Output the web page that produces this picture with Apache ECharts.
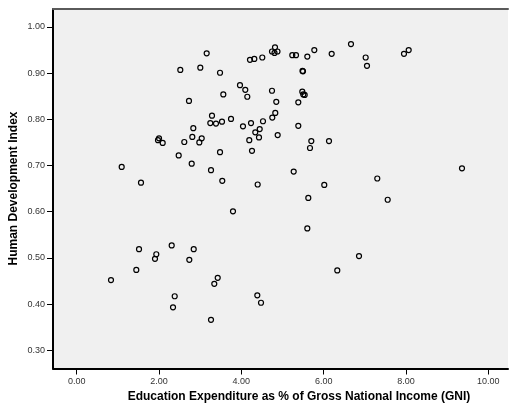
<!DOCTYPE html>
<html>
<head>
<meta charset="utf-8">
<script src="https://cdn.jsdelivr.net/npm/echarts@6/dist/echarts.min.js"></script>
<style>
  html, body { margin: 0; padding: 0; background: #fff; }
  #chart { width: 509px; height: 408px; }
</style>
</head>
<body>
<div id="chart"></div>
<script>
// Education expenditure (% of GNI) per country
const eduExpenditure = [
  3.158, 2.517, 3.003, 3.482, 4.210, 4.315, 4.509, 4.745, 4.818, 4.806,
  4.878, 2.728, 3.562, 3.967, 4.096, 4.145, 4.745, 4.849, 4.825, 4.752,
  4.883, 3.287, 3.246, 3.384, 3.530, 3.749, 4.040, 4.235, 4.526, 4.339,
  4.446, 4.429, 4.193, 4.259, 2.833, 2.809, 2.614, 3.037, 2.979, 1.975,
  2.000, 2.089, 2.478, 3.482, 2.794, 3.263, 1.093, 3.537, 1.562, 5.238,
  5.328, 5.603, 5.773, 6.195, 6.664, 7.021, 7.053, 7.952, 8.066, 5.486,
  5.498, 5.481, 5.505, 5.539, 5.384, 5.384, 5.700, 5.668, 6.130, 5.272,
  7.303, 9.361, 4.397, 3.797, 1.514, 1.934, 1.902, 2.308, 2.843, 2.736,
  1.448, 0.833, 3.426, 3.343, 2.381, 2.340, 4.388, 4.478, 3.263, 6.015,
  5.627, 7.556, 5.603, 6.859, 6.331
];
// Human Development Index for the same countries
const hdi = [
  0.943, 0.907, 0.912, 0.901, 0.929, 0.931, 0.934, 0.947, 0.956, 0.944,
  0.947, 0.840, 0.854, 0.874, 0.864, 0.849, 0.862, 0.838, 0.814, 0.804,
  0.766, 0.808, 0.792, 0.791, 0.795, 0.801, 0.785, 0.792, 0.796, 0.772,
  0.779, 0.761, 0.755, 0.732, 0.781, 0.762, 0.751, 0.759, 0.750, 0.755,
  0.759, 0.749, 0.722, 0.729, 0.704, 0.690, 0.697, 0.667, 0.663, 0.939,
  0.939, 0.936, 0.950, 0.942, 0.963, 0.934, 0.916, 0.942, 0.950, 0.905,
  0.904, 0.860, 0.854, 0.853, 0.837, 0.786, 0.753, 0.738, 0.753, 0.687,
  0.672, 0.694, 0.659, 0.601, 0.519, 0.508, 0.498, 0.527, 0.519, 0.496,
  0.474, 0.452, 0.457, 0.444, 0.417, 0.393, 0.419, 0.403, 0.366, 0.658,
  0.630, 0.626, 0.564, 0.504, 0.473
];
// Tick positions
const xTicks = [0, 2, 4, 6, 8, 10];
const yTicks = [0.3, 0.4, 0.5, 0.6, 0.7, 0.8, 0.9, 1.0];

const xTitle = 'Education Expenditure as % of Gross National Income (GNI)';
const yTitle = 'Human Development Index';

const points = eduExpenditure.map((x, i) => [x, hdi[i]]);

const FONT = '"Liberation Sans", Arial, sans-serif';
const chart = echarts.init(document.getElementById('chart'), null, { renderer: 'canvas' });

chart.setOption({
  animation: false,
  backgroundColor: '#ffffff',
  grid: {
    left: 53, right: 1, top: 9, bottom: 39.5,
    show: true, backgroundColor: '#f0f0f0', borderWidth: 0
  },
  xAxis: [{
    type: 'value',
    min: -0.576, max: 10.479,
    splitLine: { show: false },
    axisLine: { show: true, onZero: false, lineStyle: { color: '#000', width: 2 } },
    axisTick: { show: true, length: 6, customValues: xTicks, lineStyle: { color: '#000', width: 1 } },
    axisLabel: {
      customValues: xTicks, margin: 9, color: '#333',
      fontFamily: FONT, fontSize: 9,
      formatter: v => v.toFixed(2)
    }
  }, {
    // upper frame edge
    type: 'value', position: 'top',
    min: -0.576, max: 10.479,
    splitLine: { show: false },
    axisLine: { show: true, onZero: false, lineStyle: { color: '#5a5a5a', width: 2 } },
    axisTick: { show: false },
    axisLabel: { show: false }
  }],
  yAxis: {
    type: 'value',
    min: 0.2606, max: 1.039,
    splitLine: { show: false },
    axisLine: { show: true, onZero: false, lineStyle: { color: '#000', width: 2 } },
    axisTick: { show: true, length: 6, customValues: yTicks, lineStyle: { color: '#000', width: 1 } },
    axisLabel: {
      customValues: yTicks, margin: 8, color: '#333',
      fontFamily: FONT, fontSize: 9,
      formatter: v => v.toFixed(2)
    }
  },
  graphic: [{
    type: 'text',
    x: 299, y: 397,
    style: {
      text: xTitle, fill: '#000',
      font: 'bold 12px ' + FONT,
      textAlign: 'center', textVerticalAlign: 'middle'
    }
  }, {
    type: 'text',
    x: 14, y: 188.5,
    rotation: Math.PI / 2,
    style: {
      text: yTitle, fill: '#000',
      font: 'bold 12px ' + FONT,
      textAlign: 'center', textVerticalAlign: 'middle'
    }
  }],
  series: [{
    type: 'scatter',
    xAxisIndex: 0,
    data: points,
    symbol: 'circle',
    symbolSize: 5,
    itemStyle: { color: 'rgba(0,0,0,0)', borderColor: '#000', borderWidth: 1.2, opacity: 1 },
    emphasis: { disabled: true }
  }]
});
</script>
</body>
</html>
